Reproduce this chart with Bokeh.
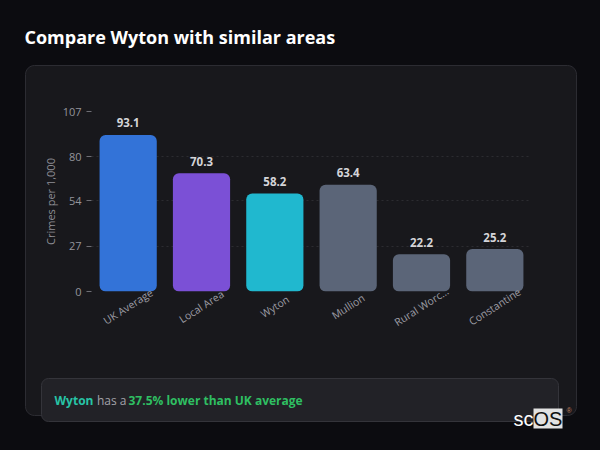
import math
from bokeh.plotting import figure
from bokeh.models import FactorRange, Range1d, FixedTicker, ColumnDataSource
from bokeh.core.properties import value
from bokeh.embed import file_html
from bokeh.resources import INLINE

# ---- data ----
categories = ["UK Average", "Local Area", "Wyton", "Mullion", "Rural Worc...", "Constantine"]
crime_rates = [93.1, 70.3, 58.2, 63.4, 22.2, 25.2]
bar_colors = ["#3373d8", "#7b50d6", "#20b8cf", "#5b6578", "#5b6578", "#5b6578"]
y_ticks = [0, 27, 54, 80, 107]
title_text = "Compare Wyton with similar areas"
y_label = "Crimes per 1,000"
foot_parts = ["Wyton", "has a", "37.5% lower than UK average"]

PAGE_BG = "#0c0c10"
CARD_BG = "#18181c"
FONT = "Open Sans"

W, H = 600, 450
# plot frame in page pixels
FL, FR, FT, FB = 91, 531, 111, 291
YMAX = 107
n = len(categories)

p = figure(width=W, height=H, output_backend="svg", toolbar_location=None,
           x_range=FactorRange(factors=categories, range_padding=0, factor_padding=0),
           y_range=Range1d(0, YMAX),
           min_border_left=FL, min_border_right=W - FR, min_border_top=FT,
           min_border_bottom=H - FB)
p.background_fill_color = CARD_BG
p.border_fill_color = CARD_BG
p.outline_line_color = None

# helpers: page pixels -> data coords (for decorations outside the frame)
def dx(px):
    return (px - FL) / (FR - FL) * n

def dy(py):
    return (FB - py) / (FB - FT) * YMAX

def rounded_rect(x0, y0, x1, y1, r, steps=6):
    xs, ys = [], []
    corners = [(x1 - r, y0 + r, -90), (x1 - r, y1 - r, 0), (x0 + r, y1 - r, 90), (x0 + r, y0 + r, 180)]
    for cx, cy, a0 in corners:
        for k in range(steps + 1):
            a = math.radians(a0 + 90 * k / steps)
            xs.append(dx(cx + r * math.cos(a)))
            ys.append(dy(cy + r * math.sin(a)))
    return xs, ys

# page background around the rounded card (mask with a hole)
hx, hy = rounded_rect(25, 65, 576, 415, 9)
ox = [dx(-5), dx(W + 5), dx(W + 5), dx(-5)]
oy = [dy(-5), dy(-5), dy(H + 5), dy(H + 5)]
mask = p.multi_polygons(xs=[[[ox, hx]]], ys=[[[oy, hy]]], fill_color=PAGE_BG, line_color=None)
mask.level = "overlay"
edge = p.patch(x=hx, y=hy, fill_color=None, line_color="#2c2c32", line_width=1)
edge.level = "overlay"

# grid
p.xgrid.grid_line_color = None
p.ygrid.ticker = FixedTicker(ticks=y_ticks[1:])
p.ygrid.grid_line_color = "#2c2c31"
p.ygrid.grid_line_dash = "2 3"
p.ygrid.grid_line_width = 1

# axes
p.yaxis.ticker = FixedTicker(ticks=y_ticks)
p.yaxis.axis_line_color = None
p.yaxis.major_tick_line_color = "#6e6e75"
p.yaxis.major_tick_out = 5
p.yaxis.major_tick_in = 0
p.yaxis.minor_tick_line_color = None
p.yaxis.major_label_text_color = "#94949b"
p.yaxis.major_label_text_font = FONT
p.yaxis.major_label_text_font_size = "11px"
p.yaxis.major_label_standoff = 5
p.yaxis.axis_label = y_label
p.yaxis.axis_label_text_color = "#8e8e95"
p.yaxis.axis_label_text_font = FONT
p.yaxis.axis_label_text_font_size = "11px"
p.yaxis.axis_label_text_font_style = "normal"
p.yaxis.axis_label_standoff = 2

p.xaxis.axis_line_color = None
p.xaxis.major_tick_line_color = None
p.xaxis.minor_tick_line_color = None
p.xaxis.major_label_text_color = None
p.xaxis.major_label_text_font_size = "1px"

src = ColumnDataSource(dict(cat=categories, val=crime_rates, color=bar_colors,
                            lab=[f"{v:.1f}" for v in crime_rates]))

p.vbar(x="cat", top="val", bottom=0, width=0.78, source=src, fill_color="color",
       line_color=None, border_radius=6)

p.text(x="cat", y="val", text="lab", source=src, y_offset=-12,
       text_align="center", text_baseline="middle", text_color="#d4d4d8",
       text_font=value(FONT), text_font_style="bold", text_font_size="11.5px")

cat_lbl = p.text(x="cat", y=0, text="cat", source=src, y_offset=15, angle=0.57,
                 text_align="center", text_baseline="middle", text_color="#9c9ca4",
                 text_font=value(FONT), text_font_size="10.5px")
cat_lbl.level = "overlay"

# title
t = p.text(x=[dx(24)], y=[dy(36)], text=[title_text], text_align="left",
           text_baseline="middle", text_color="#ffffff", text_font=value(FONT),
           text_font_style="bold", text_font_size="18px")
t.level = "overlay"

# footer box
fb = p.quad(left=[dx(41)], right=[dx(558)], top=[dy(378)], bottom=[dy(421)],
            fill_color="#222227", line_color="#34343a", line_width=1, border_radius=7)
fb.level = "overlay"

foot_x = [54, 96.5, 128]
foot_colors = ["#27c4a6", "#a3a3aa", "#2fbf62"]
foot_styles = ["bold", "normal", "bold"]
for txt, fx, fc, fs in zip(foot_parts, foot_x, foot_colors, foot_styles):
    r = p.text(x=[dx(fx)], y=[dy(400)], text=[txt], text_align="left",
               text_baseline="middle", text_color=fc, text_font=value(FONT),
               text_font_style=fs, text_font_size="12px")
    r.level = "overlay"

# logo
lb = p.quad(left=[dx(533)], right=[dx(562)], top=[dy(408)], bottom=[dy(428)],
            fill_color="#e2e2e2", line_color=None)
lb.level = "overlay"
l1 = p.text(x=[dx(533)], y=[dy(418)], text=["sc"], text_align="right",
            text_baseline="middle", text_color="#ffffff",
            text_font=value("Liberation Sans"), text_font_size="20px")
l1.level = "overlay"
l2 = p.text(x=[dx(547.5)], y=[dy(418)], text=["OS"], text_align="center",
            text_baseline="middle", text_color="#111111",
            text_font=value("Liberation Sans"), text_font_size="20px")
l2.level = "overlay"
l3 = p.text(x=[dx(566)], y=[dy(410)], text=["®"], text_align="left",
            text_baseline="middle", text_color="#c08060",
            text_font=value("Liberation Sans"), text_font_size="7px")
l3.level = "overlay"

html = file_html(p, INLINE)
html = html.replace("</head>", f"<style>html, body {{ background-color: {CARD_BG}; }}</style></head>", 1)
open("out.html", "w").write(html)
